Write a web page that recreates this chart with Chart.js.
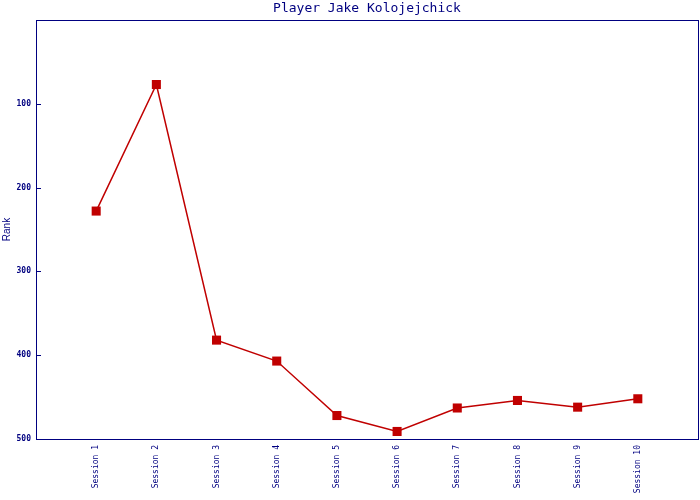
<!DOCTYPE html>
<html>
<head>
<meta charset="utf-8">
<script src="https://cdn.jsdelivr.net/npm/chart.js@4/dist/chart.umd.min.js"></script>
<style>html,body{margin:0;padding:0;background:#fff;}canvas{display:block;}</style>
</head>
<body>
<canvas id="c" width="700" height="500"></canvas>
<script>
const categories = ['Session 1','Session 2','Session 3','Session 4','Session 5','Session 6','Session 7','Session 8','Session 9','Session 10'];
const rankValues = [228, 77, 382, 407, 472, 491, 463, 454, 462, 452];
const yTicks = [0, 100, 200, 300, 400, 500];
const titleText = 'Player Jake Kolojejchick';
const yTitle = 'Rank';

const NAVY = '#000080';
const RED = '#c00000';

const frame = {
  id: 'frame',
  afterDraw(chart) {
    const a = chart.chartArea, ctx = chart.ctx, ys = chart.scales.y;
    const l = Math.round(a.left), t = Math.round(a.top), r = Math.round(a.right), b = Math.round(a.bottom);
    ctx.save();
    ctx.strokeStyle = NAVY;
    ctx.lineWidth = 1;
    ctx.strokeRect(l + 0.5, t + 0.5, r - l, b - t);
    ctx.beginPath();
    yTicks.forEach(v => {
      if (v === 0 || v === 500) return;
      const py = Math.round(ys.getPixelForValue(v)) + 0.5;
      ctx.moveTo(l, py);
      ctx.lineTo(l + 5, py);
    });
    ctx.stroke();
    ctx.restore();
  }
};

new Chart(document.getElementById('c'), {
  type: 'line',
  data: {
    datasets: [{
      data: rankValues.map((v, i) => ({x: i + 1, y: v})),
      borderColor: RED,
      backgroundColor: RED,
      borderWidth: 1.5,
      pointStyle: 'rect',
      pointRadius: 6.4,
      pointHoverRadius: 6.4,
      pointBorderWidth: 0,
      pointBackgroundColor: RED,
      tension: 0,
      fill: false
    }]
  },
  options: {
    responsive: false,
    animation: false,
    events: [],
    layout: {autoPadding: false, padding: {left: 0, right: 2, top: 0, bottom: 0}},
    plugins: {
      legend: {display: false},
      tooltip: {enabled: false},
      title: {
        display: true,
        fullSize: false,
        text: titleText,
        color: NAVY,
        font: {family: 'DejaVu Sans Mono', size: 13, weight: 'normal', lineHeight: 1.2},
        padding: {top: 1, bottom: 3.4}
      }
    },
    scales: {
      x: {
        type: 'linear',
        min: 0,
        max: 11,
        grid: {display: false, drawTicks: false},
        border: {display: false},
        afterFit(s) { s.height = 61; s.paddingLeft = 0; s.paddingRight = 0; },
        ticks: {
          stepSize: 1,
          autoSkip: false,
          minRotation: 90,
          maxRotation: 90,
          padding: 6,
          color: NAVY,
          font: {family: 'DejaVu Sans Mono', size: 8},
          callback: v => categories[v - 1] || ''
        }
      },
      y: {
        type: 'linear',
        reverse: true,
        min: 0,
        max: 500,
        grid: {display: false, drawTicks: false},
        border: {display: false},
        afterFit(s) { s.width = 36; s.paddingTop = 0; s.paddingBottom = 0; },
        afterBuildTicks(s) { s.ticks = yTicks.map(v => ({value: v})); },
        title: {
          display: true,
          text: yTitle,
          color: NAVY,
          font: {family: 'Liberation Sans', size: 10},
          padding: {top: 1.5, bottom: 0}
        },
        ticks: {
          padding: 5,
          color: NAVY,
          font: {family: 'DejaVu Sans Mono', size: 8, weight: 'bold'},
          callback: v => v === 0 ? '' : String(v)
        }
      }
    }
  },
  plugins: [frame]
});
</script>
</body>
</html>
